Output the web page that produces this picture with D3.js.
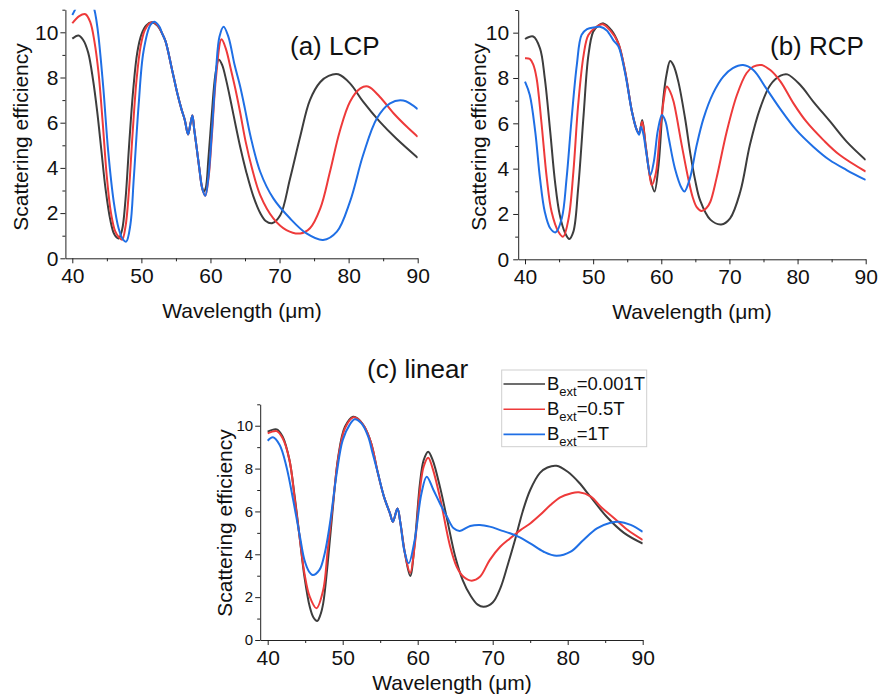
<!DOCTYPE html>
<html>
<head>
<meta charset="UTF-8">
<title>Scattering efficiency vs wavelength</title>
<script src="https://d3js.org/d3.v7.min.js"></script>
<style>
  body { margin: 0; background: #fff; }
  text { font-family: "Liberation Sans", Arial, sans-serif; }
</style>
</head>
<body>
<svg width="879" height="698"></svg>
<script>

// (a) LCP : [wavelength um, scattering efficiency]
const lcpLow = [[40,9.72],[40.9,9.86],[41.6,9.65],[42.3,9.1],[43.0,7.9],[43.6,6.5],[44.2,4.8],[44.8,3.1],[45.5,1.7],[46.1,1.05],[46.7,0.88],[47.2,1.25],[47.7,2.6],[48.2,4.9],[48.8,7.4],[49.4,9.1],[50.0,9.9],[50.7,10.3],[51.5,10.44],[52.3,10.3],[53.0,9.95],[53.5,9.6],[54.4,8.4],[55.2,7.3],[55.8,6.6],[56.3,6.1],[56.75,5.48],[57.1,5.95],[57.38,6.32],[57.65,5.7],[58.0,4.9],[58.4,3.95],[58.75,3.2],[59.0,2.95],[59.3,3.1],[59.7,4.4],[60.2,6.4],[60.7,8.1],[61.2,8.8],[61.7,8.55],[62.3,7.85],[63.0,6.85],[63.7,5.8],[64.4,4.8],[65.2,3.8],[66.2,2.75],[67.2,2.0],[68.0,1.65],[68.9,1.55],[70.1,1.9],[71.5,3.5],[73.0,5.4],[74.4,7.0],[75.9,7.8],[77.1,8.07],[78.5,8.14],[80.2,7.74],[82.1,6.93],[84.5,6.05],[86.9,5.3],[90,4.45]];
const lcpMid = [[40,10.4],[41.0,10.72],[41.9,10.8],[42.6,10.45],[43.2,9.6],[43.8,8.2],[44.4,6.0],[45.0,3.6],[45.6,2.0],[46.2,1.2],[46.7,0.95],[47.2,0.82],[47.7,1.4],[48.2,3.0],[48.7,5.4],[49.3,7.9],[49.9,9.4],[50.5,10.1],[51.2,10.4],[51.8,10.44],[52.5,10.25],[53.0,9.95],[53.5,9.6],[54.4,8.4],[55.2,7.3],[55.8,6.6],[56.3,6.1],[56.75,5.48],[57.1,5.95],[57.38,6.32],[57.65,5.7],[58.0,4.9],[58.4,3.95],[58.8,3.1],[59.25,2.77],[59.7,3.5],[60.2,5.4],[60.8,8.0],[61.6,9.69],[62.2,9.3],[63.0,8.3],[63.6,7.5],[64.3,6.45],[65.1,5.15],[66.0,4.0],[67.2,2.8],[69.1,1.77],[71.0,1.25],[73.0,1.1],[74.4,1.33],[75.9,2.21],[77.3,3.83],[78.7,5.6],[80.2,6.93],[81.7,7.52],[82.8,7.6],[84.5,7.15],[86.5,6.42],[88.4,5.83],[90,5.38]];
const lcpHigh = [[40,10.77],[40.4,11.0],[41.0,11.5],[41.7,11.8],[42.5,11.6],[43.2,11.0],[43.5,10.5],[43.8,9.8],[44.5,7.5],[45.2,4.72],[46.0,2.5],[46.7,1.33],[47.3,0.85],[47.8,0.74],[48.4,1.47],[48.9,3.54],[49.6,6.78],[50.3,9.14],[51.3,10.32],[51.9,10.47],[52.6,10.25],[53.0,9.95],[53.5,9.6],[54.4,8.4],[55.2,7.3],[55.8,6.6],[56.3,6.1],[56.75,5.48],[57.1,5.95],[57.38,6.32],[57.65,5.7],[58.0,4.9],[58.4,3.95],[58.8,3.1],[59.25,2.77],[59.7,3.6],[60.2,5.6],[60.8,8.3],[61.3,9.8],[61.9,10.25],[62.6,9.8],[63.5,8.55],[64.3,7.6],[65.0,6.6],[65.8,5.4],[67.2,3.83],[69.1,2.65],[71.5,1.77],[73.9,1.1],[76.3,0.81],[78.3,1.18],[80.2,2.51],[82.1,4.57],[84.1,6.2],[86.0,6.86],[87.9,6.98],[90,6.6]];

// (b) RCP
const rcpLow = [[40,9.72],[41.2,9.83],[42.2,9.31],[42.9,7.99],[43.7,5.63],[44.4,3.43],[45.1,1.96],[45.9,1.15],[46.5,0.9],[47.1,1.22],[47.8,3.13],[48.6,6.37],[49.3,9.0],[50.0,10.04],[50.7,10.3],[51.5,10.41],[52.7,10.1],[53.7,9.53],[54.7,8.28],[55.7,6.51],[56.4,5.71],[56.75,5.56],[57.2,6.15],[57.7,5.04],[58.4,3.57],[59.0,2.99],[59.6,4.16],[60.3,7.1],[60.8,8.2],[61.3,8.75],[61.8,8.55],[62.5,7.84],[63.5,6.2],[64.3,4.6],[65.0,3.45],[65.7,2.6],[67.2,1.75],[68.8,1.54],[70.1,1.81],[71.6,2.99],[73.0,5.04],[74.5,6.66],[76.0,7.69],[77.5,8.1],[78.5,8.16],[80.4,7.69],[82.3,6.96],[84.8,6.07],[87.2,5.19],[90,4.38]];
const rcpMid = [[40,8.87],[40.7,8.84],[41.2,8.6],[41.7,7.99],[42.4,6.07],[43.2,3.57],[43.9,2.1],[44.9,1.22],[45.6,1.0],[46.4,1.81],[47.1,3.87],[47.8,6.81],[48.6,9.01],[49.3,9.9],[50.5,10.26],[51.4,10.37],[52.5,10.1],[53.7,9.53],[54.7,8.28],[55.7,6.51],[56.4,5.71],[56.75,5.56],[57.2,6.07],[57.7,5.0],[58.2,3.9],[58.6,3.28],[59.2,3.8],[59.8,5.6],[60.3,6.9],[60.8,7.62],[61.3,7.4],[61.8,6.96],[63.0,5.04],[64.0,3.5],[64.6,2.75],[65.2,2.3],[65.9,2.13],[66.6,2.25],[67.2,2.54],[68.1,3.57],[69.6,5.63],[71.1,7.25],[72.5,8.21],[73.5,8.5],[74.7,8.57],[76.0,8.35],[77.5,7.84],[79.4,6.88],[81.3,6.07],[83.8,5.26],[86.2,4.6],[90,3.87]];
const rcpHigh = [[40,7.84],[40.7,7.25],[41.5,5.63],[42.2,3.57],[42.9,2.1],[43.7,1.37],[44.5,1.19],[45.4,1.81],[46.1,3.57],[46.8,6.07],[47.6,8.57],[48.3,9.9],[49.1,10.16],[50.3,10.24],[51.0,10.26],[52.0,10.1],[53.0,9.65],[53.7,9.4],[54.7,8.2],[55.7,6.5],[56.4,5.7],[56.75,5.5],[57.0,5.85],[57.35,5.55],[57.8,4.7],[58.4,3.72],[58.9,4.3],[59.5,5.7],[60.1,6.37],[60.6,6.1],[61.1,5.34],[62.0,4.01],[63.0,3.13],[63.4,2.99],[64.2,3.57],[65.2,5.04],[66.2,6.22],[67.6,7.32],[69.1,8.06],[70.5,8.43],[72.0,8.57],[73.5,8.35],[75.4,7.54],[77.4,6.66],[79.8,5.71],[82.3,4.97],[84.7,4.38],[87.2,3.94],[90,3.5]];

// (c) linear
const linLow = [[40,9.72],[41.2,9.83],[42.0,9.49],[42.9,8.4],[43.6,6.69],[44.3,4.67],[44.9,2.95],[45.6,1.56],[46.1,1.05],[46.6,0.89],[47.0,1.15],[47.4,1.71],[48.0,3.58],[48.7,6.22],[49.4,8.55],[50.3,9.95],[51.4,10.42],[52.0,10.34],[52.9,9.95],[53.8,9.18],[54.7,7.78],[55.5,6.69],[56.3,5.91],[56.7,5.52],[57.3,6.14],[57.7,5.44],[58.3,4.04],[59.0,2.99],[59.6,4.51],[60.3,7.31],[60.8,8.4],[61.4,8.79],[62.0,8.4],[63.0,7.1],[64.0,5.5],[65.0,3.9],[66.0,2.8],[67.0,2.1],[68.0,1.65],[68.8,1.55],[70.0,1.75],[71.0,2.4],[72.0,3.5],[73.0,4.7],[74.0,6.0],[75.0,7.0],[76.3,7.8],[77.3,8.05],[78.5,8.13],[80.0,7.85],[81.5,7.35],[83.0,6.7],[85.2,5.75],[87.5,5.0],[90,4.5]];
const linMid = [[40,9.64],[41.2,9.75],[42.0,9.41],[42.9,8.4],[43.6,6.6],[44.3,4.67],[44.9,3.11],[45.6,2.02],[46.5,1.48],[47.4,2.33],[48.0,4.2],[48.7,6.38],[49.4,8.48],[50.3,9.88],[51.4,10.39],[52.0,10.32],[52.9,9.95],[53.8,9.18],[54.7,7.78],[55.5,6.69],[56.3,5.91],[56.7,5.52],[57.3,6.14],[57.7,5.44],[58.3,4.04],[59.0,3.14],[59.6,4.4],[60.3,7.0],[60.8,8.1],[61.4,8.51],[62.0,8.0],[63.0,6.6],[64.3,4.4],[65.2,3.42],[66.1,2.95],[67.2,2.77],[68.3,2.95],[69.6,3.73],[71.0,4.35],[72.3,4.74],[73.7,5.13],[75.0,5.44],[76.3,5.83],[77.7,6.3],[79.0,6.66],[80.4,6.84],[81.5,6.89],[83.1,6.69],[84.4,6.22],[86.2,5.68],[88.0,5.13],[90,4.67]];
const linHigh = [[40,9.3],[40.7,9.46],[41.6,9.1],[42.5,8.09],[43.4,6.53],[44.3,4.82],[44.9,3.73],[45.5,3.2],[46.0,3.03],[46.9,3.27],[47.6,4.04],[48.3,5.44],[49.2,7.78],[50.0,9.33],[50.9,10.03],[51.6,10.3],[52.5,10.11],[53.4,9.49],[54.0,8.7],[54.7,7.78],[55.5,6.69],[56.3,5.91],[56.7,5.52],[57.3,6.14],[57.7,5.44],[58.2,4.2],[58.8,3.58],[59.6,4.67],[60.5,6.84],[61.2,7.62],[62.1,7.0],[63.0,6.35],[63.9,5.75],[64.8,5.21],[65.6,5.09],[67.0,5.32],[68.3,5.37],[69.6,5.29],[71.0,5.13],[72.3,4.98],[73.4,4.82],[75.0,4.51],[76.8,4.12],[78.5,3.93],[80.4,4.12],[82.1,4.67],[83.9,5.21],[85.7,5.47],[86.8,5.52],[88.4,5.37],[90,5.05]];

const fieldLabels = ["=0.001T", "=0.5T", "=1T"];
const xTicks = [40, 50, 60, 70, 80, 90];
const xMinor = [45, 55, 65, 75, 85];
const yTicks = [0, 2, 4, 6, 8, 10];
const yMinor = [1, 3, 5, 7, 9, 11];

const colors = ["#3d3d3d", "#ee3a3a", "#1f6fe5"];
const svg = d3.select('svg');

function drawPanel(p) {
    const x = d3.scaleLinear().domain([39, 90]).range(p.xr);
    const y = d3.scaleLinear().domain([0, 11]).range(p.yr);
    const g = svg.append('g');

    g.append('clipPath').attr('id', 'clip-' + p.id)
        .append('rect')
        .attr('x', p.xr[0]).attr('y', p.yr[1])
        .attr('width', p.xr[1] - p.xr[0]).attr('height', p.yr[0] - p.yr[1]);

    const line = d3.line()
        .x(d => x(d[0]))
        .y(d => y(d[1]))
        .curve(d3.curveCatmullRom.alpha(0.5));

    g.append('g').attr('clip-path', `url(#clip-${p.id})`)
        .selectAll('path')
        .data(p.series)
        .enter().append('path')
        .attr('d', line)
        .attr('fill', 'none')
        .attr('stroke', (d, i) => colors[i])
        .attr('stroke-width', 2);

    // minor ticks
    g.append('g')
        .attr('transform', `translate(0,${p.yr[0]})`)
        .call(d3.axisBottom(x).tickValues(xMinor).tickSize(3).tickSizeOuter(0).tickFormat(''))
        .call(a => a.select('.domain').remove());
    g.append('g')
        .attr('transform', `translate(${p.xr[0]},0)`)
        .call(d3.axisLeft(y).tickValues(yMinor).tickSize(3).tickSizeOuter(0).tickFormat(''))
        .call(a => a.select('.domain').remove());

    // major axes
    const gx = g.append('g')
        .attr('transform', `translate(0,${p.yr[0]})`)
        .call(d3.axisBottom(x).tickValues(xTicks).tickSize(5).tickSizeOuter(0).tickPadding(5));
    gx.attr('font-size', 21).attr('font-family', null);

    const gy = g.append('g')
        .attr('transform', `translate(${p.xr[0]},0)`)
        .call(d3.axisLeft(y).tickValues(yTicks).tickSize(5).tickSizeOuter(0).tickPadding(p.yPad));
    gy.attr('font-size', p.yFont).attr('font-family', null);

    g.selectAll('.domain, .tick line').attr('stroke', '#222');
    g.selectAll('.tick text').attr('fill', '#111');

    g.append('text')
        .attr('transform', `translate(${p.ylab[0]},${p.ylab[1]}) rotate(-90)`)
        .attr('text-anchor', 'middle')
        .attr('font-size', 21)
        .attr('fill', '#111')
        .text('Scattering efficiency');

    const xl = g.append('text')
        .attr('x', p.xlab[0]).attr('y', p.xlab[1])
        .attr('text-anchor', 'middle')
        .attr('font-size', 21)
        .attr('fill', '#111');
    xl.append('tspan').text('Wavelength (');
    xl.append('tspan').text('\u03bc');
    xl.append('tspan').text('m)');

    g.append('text')
        .attr('x', p.title[0]).attr('y', p.title[1])
        .attr('font-size', 26)
        .attr('fill', '#111')
        .text(p.titleText);
}

drawPanel({
    id: 'a', xr: [65.4, 417.7], yr: [258.3, 9.7],
    series: [lcpLow, lcpMid, lcpHigh],
    yPad: 2, yFont: 21,
    ylab: [28, 137], xlab: [242, 318],
    title: [290, 55], titleText: '(a) LCP'
});

drawPanel({
    id: 'b', xr: [518.2, 865.7], yr: [259.3, 10.0],
    series: [rcpLow, rcpMid, rcpHigh],
    yPad: 4, yFont: 21,
    ylab: [486, 137], xlab: [692, 319],
    title: [770, 55], titleText: '(b) RCP'
});

drawPanel({
    id: 'c', xr: [260.2, 642.7], yr: [640, 404.3],
    series: [linLow, linMid, linHigh],
    yPad: 2, yFont: 15,
    ylab: [232, 523], xlab: [452, 690],
    title: [367, 378], titleText: '(c) linear'
});

// legend for panel (c)
const legend = svg.append('g');
legend.append('rect')
    .attr('x', 501.7).attr('y', 370)
    .attr('width', 145).attr('height', 76.7)
    .attr('fill', '#fff')
    .attr('stroke', '#cfcfcf')
    .attr('stroke-width', 1);

const rows = legend.selectAll('.row')
    .data(fieldLabels)
    .enter().append('g')
    .attr('class', 'row')
    .attr('transform', (d, i) => `translate(0,${384 + i * 25.2})`);

rows.append('line')
    .attr('x1', 503.5).attr('x2', 545)
    .attr('stroke', (d, i) => colors[i])
    .attr('stroke-width', 1.6);

const lt = rows.append('text')
    .attr('x', 547).attr('y', 6)
    .attr('font-size', 18.5)
    .attr('fill', '#111');
lt.append('tspan').text('B');
lt.append('tspan').attr('font-size', 13).attr('dy', 6).text('ext');
lt.append('tspan').attr('dy', -6).text(d => d);

</script>
</body>
</html>
